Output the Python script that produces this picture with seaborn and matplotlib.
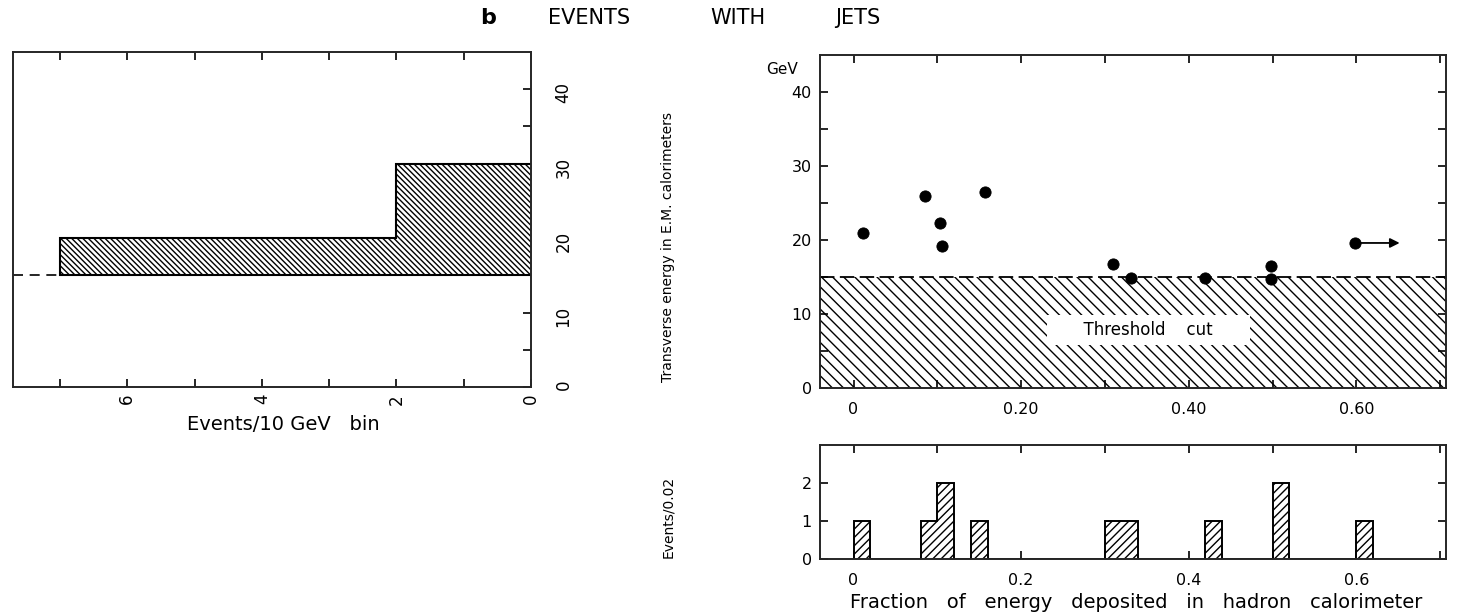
import matplotlib.pyplot as plt
import numpy as np
import seaborn as sns

# events with jets: fraction of energy in hadron calorimeter vs EM transverse energy
hadron_fraction = [0.011, 0.085, 0.103, 0.106, 0.157, 0.310, 0.331, 0.420, 0.498, 0.498, 0.599]
em_energy = [21.0, 26.0, 22.3, 19.2, 26.5, 16.7, 14.8, 14.8, 16.5, 14.7, 19.6]
arrow_end = 0.655   # last event only has a lower limit on the fraction
threshold = 15      # GeV, threshold cut

# left projection: events per 10 GeV bin
energy_edges = [15, 20, 30]
energy_counts = [7, 2]

# bottom projection: events per 0.02
frac_bin_left = [0.00, 0.08, 0.10, 0.14, 0.30, 0.32, 0.42, 0.50, 0.60]
frac_counts = [1, 1, 2, 1, 1, 1, 1, 2, 1]
frac_binwidth = 0.02

sns.set_theme(style="ticks")
plt.rcParams['font.family'] = ['DejaVu Sans']
plt.rcParams['text.color'] = 'black'
plt.rcParams['hatch.linewidth'] = 1.0
plt.rcParams['axes.linewidth'] = 1.4

W, H = 1457, 615
fig = plt.figure(figsize=(W / 100, H / 100), dpi=100)


def box(l, t, r, b):
    # pixel box -> figure fraction
    return [l / W, 1 - b / H, (r - l) / W, (b - t) / H]


def ftext(x, y, s, **kw):
    fig.text(x / W, 1 - y / H, s, **kw)


tick_kw = dict(direction='in', length=6, width=1.2, color='black', labelcolor='black')

# ---- left panel: energy projection (rotated) ----
ax_l = fig.add_axes(box(13, 52, 531, 387))
ax_l.stairs(energy_counts, energy_edges, orientation='horizontal', baseline=0,
            fill=True, facecolor='white', edgecolor='black', hatch='\\' * 6, lw=1.5)
ax_l.set_xlim(7.7, 0)
ax_l.set_ylim(0, 45)
ax_l.hlines(threshold, 7.7, max(energy_counts), colors='black', linestyles=(0, (6, 4)), lw=1.2)
ax_l.set_xticks([0, 2, 4, 6])
ax_l.set_xticks([1, 3, 5, 7], minor=True)
ax_l.set_yticks([0, 10, 20, 30, 40])
ax_l.set_yticks([5, 15, 25, 35], minor=True)
ax_l.tick_params(which='both', top=True, bottom=True, left=False, right=True,
                 labelleft=False, labelright=True, **tick_kw)
ax_l.tick_params(axis='x', which='major', labelsize=12, labelrotation=90, pad=5)
ax_l.tick_params(axis='y', which='major', labelsize=12, labelrotation=90, pad=17)
ftext(283, 425, 'Events/10 GeV   bin', ha='center', va='center', fontsize=14)

# ---- scatter panel ----
ax_s = fig.add_axes(box(820, 55, 1446, 388))
ax_s.axhspan(0, threshold, facecolor='none', edgecolor='black', hatch='\\' * 3, lw=0)
ax_s.axhline(threshold, color='black', ls=(0, (8, 3)), lw=1.3)
sns.scatterplot(x=hadron_fraction, y=em_energy, ax=ax_s, color='black',
                s=65, edgecolor='black', zorder=5)
ax_s.annotate('', xy=(arrow_end, em_energy[-1]), xytext=(hadron_fraction[-1], em_energy[-1]),
              arrowprops=dict(arrowstyle='-|>', color='black', lw=1.3, mutation_scale=14))
ax_s.text(0.352, 7.8, '      Threshold    cut      ', ha='center', va='center', fontsize=12,
          bbox=dict(facecolor='white', edgecolor='none', boxstyle='square,pad=0.35'))
ax_s.set_xlim(-0.04, 0.707)
ax_s.set_ylim(0, 45)
ax_s.set_xticks([0, 0.2, 0.4, 0.6], ['0', '0.20', '0.40', '0.60'])
ax_s.set_xticks([0.1, 0.3, 0.5, 0.7], minor=True)
ax_s.set_yticks([0, 10, 20, 30, 40])
ax_s.set_yticks([5, 15, 25, 35], minor=True)
ax_s.tick_params(which='both', top=True, right=True, **tick_kw)
ax_s.tick_params(which='major', labelsize=11.5)
ax_s.tick_params(axis='x', pad=10)
ax_s.tick_params(axis='y', pad=6)
ftext(782, 70, 'GeV', ha='center', va='center', fontsize=11)
ftext(668, 247, 'Transverse energy in E.M. calorimeters', rotation=90,
      ha='center', va='center', fontsize=10)

# ---- bottom panel: fraction histogram ----
ax_h = fig.add_axes(box(820, 445, 1446, 559))
edges = np.round(np.arange(0, 0.64 + frac_binwidth / 2, frac_binwidth), 3)
centers = np.array(frac_bin_left) + frac_binwidth / 2
counts, _ = np.histogram(centers, bins=edges, weights=frac_counts)
ax_h.stairs(counts, edges, baseline=0, fill=True, facecolor='white',
            edgecolor='black', hatch='////', lw=1.4)
ax_h.set_xlim(-0.04, 0.707)
ax_h.set_ylim(0, 3)
ax_h.set_xticks([0, 0.2, 0.4, 0.6], ['0', '0.2', '0.4', '0.6'])
ax_h.set_xticks([0.1, 0.3, 0.5, 0.7], minor=True)
ax_h.set_yticks([0, 1, 2])
ax_h.tick_params(which='both', top=True, right=True, **tick_kw)
ax_h.tick_params(which='major', labelsize=11.5)
ax_h.tick_params(axis='x', pad=10)
ax_h.tick_params(axis='y', pad=6)
ftext(668, 517, 'Events/0.02', rotation=90, ha='center', va='center', fontsize=10)
ftext(1136, 603, 'Fraction   of   energy   deposited   in   hadron   calorimeter',
      ha='center', va='center', fontsize=14)

# ---- title ----
ftext(488, 18, 'b', ha='center', va='center', fontsize=16, fontweight='bold')
ftext(548, 18, 'EVENTS', ha='left', va='center', fontsize=15)
ftext(710, 18, 'WITH', ha='left', va='center', fontsize=15)
ftext(835, 18, 'JETS', ha='left', va='center', fontsize=15)

fig.savefig('out.png', dpi=100)
